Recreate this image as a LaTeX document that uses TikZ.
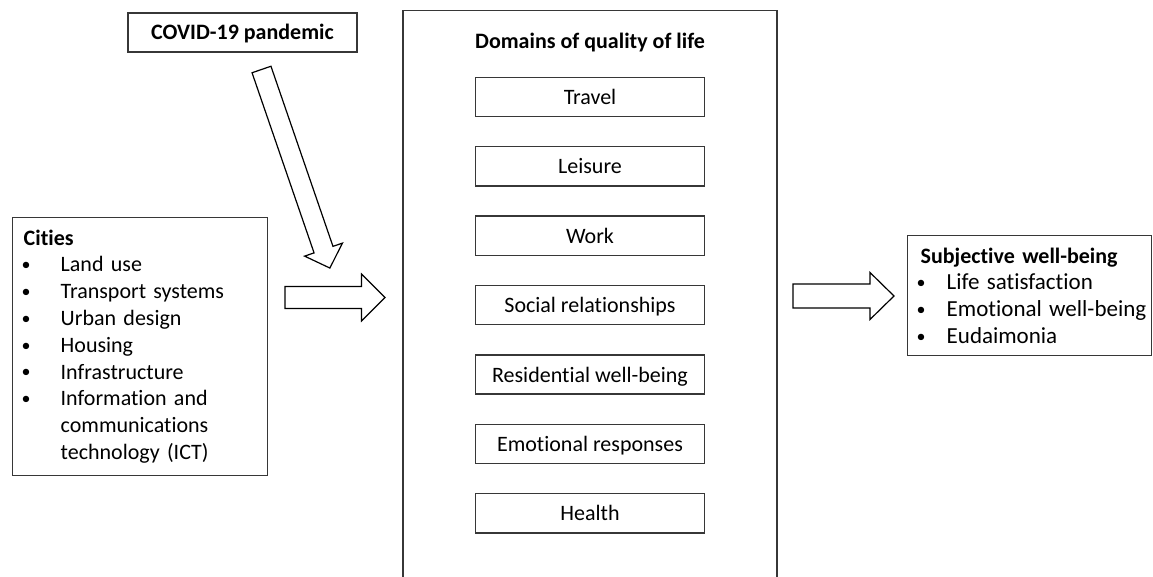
\documentclass[tikz,border=0pt]{standalone}
\usepackage{fontspec}
\setmainfont{Carlito}[Ligatures=CommonOff]
\usetikzlibrary{shapes,arrows,positioning,calc}
\definecolor{frame}{RGB}{55,55,55}
\newcommand{\bitem}[2][18.5pt]{\makebox[#1][l]{\hspace{-1pt}\raisebox{0.6pt}{\fontsize{9}{9}\selectfont\textbullet}}\mbox{#2}}

\begin{document}
\begin{tikzpicture}[
    x=0.5pt, y=-0.5pt,
    font=\fontsize{11}{13.4}\selectfont,
    box/.style={draw=frame, line width=0.7pt, minimum width=114.5pt, minimum height=19.6pt, inner sep=0pt, text height=7.5pt, text depth=0pt, align=center},
    listbox/.style={draw=frame, line width=0.7pt, anchor=north west, align=left, inner xsep=5.5pt, inner ysep=6pt},
    pics/blockarrow/.style n args={4}{code={
        \draw[line width=0.6pt, line join=miter] (0,-#2) -- (#1-#4,-#2) -- (#1-#4,-#3) -- (#1,0)
            -- (#1-#4,#3) -- (#1-#4,#2) -- (0,#2) -- cycle;
    }}
]

\path[use as bounding box, clip] (0,0) rectangle (1153,577);

% Domains of quality of life
\node[draw=frame, line width=0.7pt, minimum width=187pt, minimum height=300pt, anchor=north] (domains) at (590,10) {};
\node[font=\fontsize{11}{13.4}\selectfont\bfseries, anchor=base] (domtitle) at (590,48.5) {Domains of quality of life};

\node[box] (travel) at (590,97) {Travel};
\node[box, below=14.4pt of travel] (leisure) {Leisure};
\node[box, below=14.4pt of leisure] (work) {Work};
\node[box, below=14.4pt of work] (social) {Social relationships};
\node[box, below=14.4pt of social] (resid) {Residential well-being};
\node[box, below=14.4pt of resid] (emoresp) {Emotional responses};
\node[box, below=14.4pt of emoresp] (health) {Health};

% COVID-19
\node[box, font=\fontsize{11}{13.4}\selectfont\bfseries] (covid) at (242.5,32.5) {COVID-19 pandemic};

% Cities
\node[listbox, text width=116.5pt] (cities) at (12,217) {\textbf{Cities}\\
    \bitem{Land use}\\
    \bitem{Transport systems}\\
    \bitem{Urban design}\\
    \bitem{Housing}\\
    \bitem{Infrastructure}\\
    \bitem{Information and}\\
    \hspace*{18.5pt}communications\\
    \hspace*{18.5pt}technology (ICT)};

% Subjective well-being
\node[listbox, inner xsep=1pt, text width=120pt] (swb) at (907,235) {\hspace*{5.5pt}\textbf{Subjective well-being}\\
    \fontsize{11.5}{13.4}\selectfont
    \hspace*{4.5pt}\bitem[14pt]{Life satisfaction}\\
    \hspace*{4.5pt}\bitem[14pt]{Emotional well-being}\\
    \hspace*{4.5pt}\bitem[14pt]{Eudaimonia}};

% Block arrows
\pic[rotate=-71] (covidarrow) at (261.5,69.5) {blockarrow={210}{10}{20}{19.5}};
\pic (citiesarrow) at (285,297.5) {blockarrow={100}{11}{23.5}{23.5}};
\pic (domainsarrow) at (793,296) {blockarrow={101}{12}{23.5}{24}};

\end{tikzpicture}
\end{document}
